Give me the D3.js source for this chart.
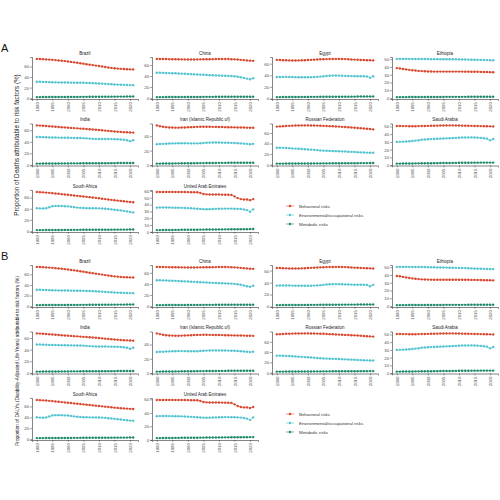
<!DOCTYPE html>
<html><head><meta charset="utf-8">
<script src="https://cdn.jsdelivr.net/npm/d3@7"></script>
<style>body{margin:0;background:#fff}svg{display:block}text{font-family:'Liberation Sans',Arial,sans-serif}</style>
</head><body><svg id="c" width="500" height="500"></svg>
<script>
const years = [1990,1991,1992,1993,1994,1995,1996,1997,1998,1999,2000,2001,2002,2003,2004,2005,2006,2007,2008,2009,2010,2011,2012,2013,2014,2015,2016,2017,2018,2019,2020,2021];
const yearTicks = [1990,1995,2000,2005,2010,2015,2020];
const countries = ["Brazil","China","Egypt","Ethiopia","India","Iran (Islamic Republic of)","Russian Federation","Saudi Arabia","South Africa","United Arab Emirates"];
const riskNames = ["Behavioral risks","Environmental/occupational risks","Metabolic risks"];
const riskColors = ["#d8472f","#52c3cf","#1d8a6c"];
const partLabels = ["A","B"];
const yTitles = ["Proportion of Deaths attributable to risk factors (%)","Proportion of DALYs (Disability-Adjusted Life Years) attributable to risk factors (%)"];
const deathsTickStep = [20,20,20,10,20,20,20,10,20,10];
const dalysTickStep = [20,20,20,10,20,20,20,10,20,20];

const deathsBehavioral = [
[74.5,74.3,74.0,73.6,73.2,72.7,72.2,71.6,71.0,70.3,69.6,68.8,68.0,67.2,66.3,65.4,64.5,63.6,62.7,61.8,60.9,60.0,59.1,58.2,57.4,56.7,56.1,55.6,55.2,54.9,54.7,54.6],
[71.0,70.9,70.8,70.7,70.6,70.5,70.4,70.3,70.2,70.1,70.0,70.0,70.0,70.1,70.2,70.3,70.4,70.5,70.6,70.7,70.8,70.8,70.8,70.7,70.5,70.2,69.8,69.3,68.8,68.3,67.8,67.5],
[66.5,66.3,66.0,65.8,65.6,65.5,65.5,65.6,65.8,66.0,66.3,66.6,66.9,67.2,67.5,67.7,67.9,68.0,68.1,68.2,68.2,68.1,67.9,67.6,67.3,67.0,66.7,66.4,66.2,66.0,65.8,65.6],
[38.5,38.0,37.4,36.8,36.2,35.7,35.3,34.9,34.6,34.4,34.2,34.1,34.0,34.0,34.0,34.0,34.0,34.0,34.0,34.0,34.0,34.0,33.9,33.9,33.8,33.8,33.7,33.6,33.5,33.4,33.3,33.2],
[68.5,68.2,67.8,67.4,67.0,66.6,66.2,65.8,65.4,65.0,64.6,64.2,63.8,63.4,63.0,62.6,62.2,61.8,61.4,61.0,60.5,60.0,59.5,59.0,58.5,58.0,57.6,57.2,56.8,56.5,56.2,56.0],
[55.0,54.0,53.2,52.6,52.2,52.0,51.9,51.9,52.0,52.2,52.4,52.6,52.8,53.0,53.1,53.2,53.2,53.1,53.0,52.9,52.8,52.7,52.6,52.5,52.4,52.3,52.2,52.1,52.0,51.9,51.8,51.7],
[72.0,72.4,72.8,73.2,73.5,73.8,74.0,74.2,74.3,74.3,74.3,74.2,74.1,73.9,73.7,73.5,73.2,72.9,72.6,72.3,72.0,71.6,71.2,70.8,70.4,70.0,69.5,69.0,68.5,68.0,67.4,66.8],
[50.5,50.5,50.4,50.4,50.3,50.3,50.3,50.4,50.5,50.6,50.7,50.8,50.9,51.0,51.1,51.2,51.3,51.3,51.3,51.2,51.1,51.0,50.9,50.8,50.7,50.6,50.5,50.4,50.3,50.2,50.1,50.0],
[70.0,69.6,69.2,68.8,68.3,67.8,67.2,66.6,66.0,65.4,64.8,64.2,63.6,63.0,62.4,61.8,61.2,60.6,60.0,59.3,58.6,57.9,57.2,56.5,55.8,55.1,54.5,53.9,53.3,52.7,52.1,51.6],
[58.5,58.5,58.5,58.6,58.6,58.6,58.5,58.5,58.4,58.4,58.3,58.2,58.1,58.0,57.0,55.5,55.0,54.8,54.7,54.7,54.7,54.6,54.5,54.4,54.2,52.0,49.5,48.0,47.5,47.5,46.5,48.0]
];
const deathsEnvironmental = [
[31.2,31.0,30.8,30.6,30.4,30.2,30.0,29.9,29.8,29.7,29.6,29.5,29.4,29.3,29.2,29.1,28.9,28.7,28.5,28.2,27.9,27.5,27.1,26.7,26.3,26.0,25.7,25.4,25.2,25.0,24.8,24.7],
[46.0,45.9,45.7,45.5,45.3,45.1,44.9,44.6,44.3,44.0,43.7,43.4,43.1,42.8,42.5,42.2,41.9,41.6,41.3,41.0,40.8,40.6,40.4,40.2,40.0,39.5,38.8,37.8,36.6,35.3,34.2,36.0],
[37.0,37.1,37.2,37.2,37.1,37.0,36.8,36.7,36.6,36.6,36.7,36.8,37.0,37.3,37.7,38.2,38.7,39.1,39.4,39.5,39.4,39.2,39.0,38.8,38.6,38.5,38.4,38.4,38.3,38.0,35.8,38.2],
[50.3,50.3,50.3,50.3,50.3,50.2,50.2,50.2,50.1,50.1,50.1,50.0,50.0,50.0,50.0,49.9,49.9,49.9,49.8,49.8,49.7,49.6,49.5,49.4,49.3,49.2,49.1,49.0,48.9,48.8,48.7,48.6],
[48.5,48.3,48.1,47.9,47.7,47.5,47.4,47.3,47.2,47.1,47.0,46.9,46.8,46.7,46.6,46.4,46.0,45.6,45.2,45.0,44.9,44.9,44.9,44.8,44.7,44.6,44.4,44.1,43.6,42.8,41.2,42.9],
[29.0,29.2,29.4,29.6,29.8,30.0,30.1,30.2,30.2,30.2,30.1,30.0,30.0,30.1,30.3,30.6,30.9,31.1,31.2,31.2,31.2,31.1,31.0,30.9,30.8,30.6,30.3,30.0,29.7,29.4,28.8,29.4],
[32.0,32.0,31.8,31.5,31.2,30.8,30.4,30.0,29.6,29.2,28.8,28.4,28.0,27.5,27.0,26.5,26.2,26.0,25.8,25.6,25.4,25.1,24.8,24.5,24.2,23.9,23.6,23.3,23.0,22.8,22.6,22.5],
[30.0,30.1,30.3,30.5,30.8,31.2,31.7,32.2,32.7,33.1,33.4,33.6,33.8,34.0,34.2,34.4,34.6,34.8,35.0,35.2,35.4,35.6,35.7,35.8,35.8,35.7,35.5,35.2,34.8,34.2,32.0,33.8],
[41.0,40.5,40.3,40.8,42.5,44.5,45.0,45.0,44.8,44.5,44.2,43.6,42.8,42.0,41.5,41.2,41.0,40.9,40.8,40.7,40.6,40.4,40.0,39.4,38.8,38.2,37.6,37.0,36.2,35.2,34.0,33.4],
[35.5,35.6,35.7,35.7,35.6,35.5,35.4,35.3,35.2,35.0,34.8,34.5,34.2,33.9,33.6,33.3,33.2,33.3,33.5,33.7,33.9,34.0,34.1,34.1,34.0,33.9,33.7,33.4,32.8,31.9,29.5,33.0]
];
const deathsMetabolic = [
[2.0,2.0,2.1,2.1,2.1,2.2,2.2,2.2,2.3,2.3,2.3,2.4,2.4,2.4,2.5,2.5,2.5,2.6,2.6,2.6,2.7,2.7,2.7,2.8,2.8,2.8,2.9,2.9,2.9,3.0,3.0,3.0],
[1.8,1.8,1.8,1.9,1.9,1.9,1.9,2.0,2.0,2.0,2.0,2.1,2.1,2.1,2.1,2.2,2.2,2.2,2.2,2.3,2.3,2.3,2.3,2.3,2.4,2.4,2.4,2.4,2.4,2.4,2.4,2.4],
[2.4,2.4,2.5,2.5,2.5,2.6,2.6,2.6,2.7,2.7,2.7,2.8,2.8,2.8,2.9,2.9,2.9,3.0,3.0,3.0,3.1,3.1,3.1,3.2,3.2,3.2,3.3,3.3,3.3,3.4,3.4,3.4],
[1.2,1.2,1.2,1.2,1.3,1.3,1.3,1.3,1.3,1.3,1.4,1.4,1.4,1.4,1.4,1.4,1.5,1.5,1.5,1.5,1.5,1.5,1.5,1.6,1.6,1.6,1.6,1.6,1.6,1.6,1.6,1.6],
[2.2,2.2,2.3,2.3,2.3,2.4,2.4,2.4,2.5,2.5,2.5,2.6,2.6,2.6,2.7,2.7,2.7,2.8,2.8,2.8,2.9,2.9,2.9,3.0,3.0,3.0,3.1,3.1,3.1,3.1,3.1,3.1],
[2.0,2.0,2.1,2.1,2.2,2.2,2.3,2.3,2.4,2.4,2.5,2.5,2.6,2.6,2.7,2.7,2.8,2.8,2.9,2.9,3.0,3.0,3.0,3.1,3.1,3.1,3.2,3.2,3.2,3.2,3.2,3.2],
[2.0,2.0,2.0,2.1,2.1,2.1,2.2,2.2,2.2,2.3,2.3,2.3,2.4,2.4,2.4,2.5,2.5,2.5,2.6,2.6,2.6,2.7,2.7,2.7,2.8,2.8,2.8,2.9,2.9,2.9,3.0,3.0],
[2.0,2.0,2.1,2.1,2.2,2.2,2.3,2.3,2.4,2.4,2.5,2.5,2.6,2.6,2.7,2.7,2.8,2.8,2.9,2.9,3.0,3.0,3.1,3.1,3.2,3.2,3.2,3.3,3.3,3.3,3.3,3.3],
[1.8,1.8,1.8,1.9,1.9,1.9,2.0,2.0,2.0,2.1,2.1,2.1,2.2,2.2,2.2,2.3,2.3,2.3,2.4,2.4,2.4,2.5,2.5,2.5,2.6,2.6,2.6,2.7,2.7,2.7,2.8,2.8],
[2.5,2.5,2.6,2.6,2.7,2.7,2.8,2.8,2.9,2.9,3.0,3.0,3.1,3.1,3.2,3.2,3.3,3.3,3.4,3.4,3.5,3.5,3.6,3.6,3.7,3.7,3.8,3.8,3.9,3.9,4.0,4.0]
];
const dalysBehavioral = [
[74.0,73.8,73.5,73.1,72.7,72.2,71.7,71.1,70.5,69.8,69.1,68.3,67.5,66.7,65.8,64.9,64.0,63.1,62.2,61.3,60.4,59.5,58.6,57.7,56.9,56.2,55.6,55.1,54.7,54.4,54.2,54.1],
[70.5,70.4,70.3,70.2,70.1,70.0,69.9,69.8,69.7,69.6,69.5,69.5,69.5,69.6,69.7,69.8,69.9,70.0,70.1,70.2,70.3,70.3,70.3,70.2,70.0,69.7,69.3,68.8,68.3,67.8,67.3,67.0],
[64.5,64.3,64.0,63.8,63.6,63.5,63.5,63.6,63.8,64.0,64.3,64.6,64.9,65.2,65.5,65.7,65.9,66.0,66.1,66.2,66.2,66.1,65.9,65.6,65.3,65.0,64.7,64.4,64.2,64.0,63.8,63.6],
[38.7,38.2,37.5,36.8,36.1,35.5,35.0,34.6,34.3,34.1,34.0,33.9,33.8,33.8,33.8,33.8,33.8,33.8,33.8,33.8,33.8,33.8,33.7,33.7,33.6,33.6,33.5,33.4,33.3,33.2,33.1,33.0],
[68.0,67.7,67.3,66.9,66.5,66.1,65.7,65.3,64.9,64.5,64.1,63.7,63.3,62.9,62.5,62.1,61.7,61.3,60.9,60.5,60.0,59.5,59.0,58.5,58.0,57.5,57.1,56.7,56.3,56.0,55.7,55.5],
[55.5,54.5,53.6,53.0,52.6,52.4,52.3,52.3,52.4,52.6,52.8,53.0,53.2,53.4,53.5,53.6,53.6,53.5,53.4,53.3,53.2,53.1,53.0,52.9,52.8,52.7,52.6,52.5,52.4,52.3,52.2,52.1],
[74.5,74.8,75.1,75.4,75.6,75.8,76.0,76.1,76.2,76.2,76.2,76.1,76.0,75.8,75.6,75.4,75.1,74.8,74.5,74.2,73.9,73.6,73.3,73.0,72.7,72.4,72.0,71.6,71.2,70.8,70.4,70.0],
[50.5,50.5,50.4,50.4,50.3,50.3,50.3,50.4,50.5,50.6,50.7,50.8,50.9,51.0,51.1,51.2,51.3,51.3,51.3,51.2,51.1,51.0,50.9,50.8,50.7,50.6,50.5,50.4,50.3,50.2,50.1,50.0],
[72.0,71.6,71.2,70.8,70.3,69.8,69.2,68.6,68.0,67.4,66.8,66.2,65.6,65.0,64.4,63.8,63.2,62.6,62.0,61.4,60.8,60.2,59.6,59.0,58.4,57.8,57.3,56.8,56.4,56.0,55.6,55.4],
[59.0,59.0,59.0,59.1,59.1,59.1,59.0,59.0,58.9,58.9,58.8,58.7,58.6,58.5,57.5,56.0,55.5,55.3,55.2,55.2,55.2,55.1,55.0,54.9,54.7,52.5,50.0,48.5,48.0,48.0,47.0,48.5]
];
const dalysEnvironmental = [
[31.0,30.8,30.6,30.4,30.2,30.0,29.8,29.7,29.6,29.5,29.4,29.3,29.2,29.1,29.0,28.9,28.7,28.5,28.3,28.0,27.7,27.3,26.9,26.5,26.1,25.8,25.5,25.2,25.0,24.8,24.6,24.5],
[46.5,46.4,46.2,46.0,45.8,45.6,45.4,45.1,44.8,44.5,44.2,43.9,43.6,43.3,43.0,42.7,42.4,42.1,41.8,41.5,41.3,41.1,40.9,40.7,40.5,40.0,39.3,38.3,37.1,35.8,34.7,36.5],
[35.0,35.1,35.2,35.2,35.1,35.0,34.8,34.7,34.6,34.6,34.7,34.8,35.0,35.3,35.7,36.2,36.7,37.1,37.4,37.5,37.4,37.2,37.0,36.8,36.6,36.5,36.4,36.4,36.3,36.0,33.8,36.2],
[50.3,50.3,50.3,50.3,50.3,50.2,50.2,50.2,50.1,50.1,50.0,49.9,49.8,49.7,49.6,49.5,49.4,49.3,49.2,49.1,49.0,48.9,48.8,48.6,48.4,48.2,48.0,47.9,47.8,47.7,47.6,47.5],
[49.0,48.8,48.6,48.4,48.2,48.0,47.9,47.8,47.7,47.6,47.5,47.4,47.3,47.2,47.1,46.9,46.5,46.1,45.7,45.5,45.4,45.4,45.4,45.3,45.2,45.1,44.9,44.6,44.1,43.3,41.5,43.4],
[29.5,29.7,29.9,30.1,30.3,30.5,30.6,30.7,30.7,30.7,30.6,30.5,30.5,30.6,30.8,31.1,31.4,31.6,31.7,31.7,31.7,31.6,31.5,31.4,31.3,31.1,30.8,30.5,30.2,29.9,29.3,29.9],
[33.0,33.0,32.8,32.5,32.2,31.8,31.4,31.0,30.6,30.2,29.8,29.4,29.0,28.5,28.0,27.5,27.2,27.0,26.8,26.6,26.4,26.1,25.8,25.5,25.2,24.9,24.6,24.3,24.0,23.8,23.6,23.5],
[30.0,30.1,30.3,30.5,30.8,31.2,31.7,32.2,32.7,33.1,33.4,33.6,33.8,34.0,34.2,34.4,34.6,34.8,35.0,35.2,35.4,35.6,35.7,35.8,35.8,35.7,35.5,35.2,34.8,34.2,32.0,33.8],
[40.0,39.5,39.3,39.8,41.5,43.5,44.0,44.0,43.8,43.5,43.2,42.6,41.8,41.0,40.5,40.2,40.0,39.9,39.8,39.7,39.6,39.4,39.0,38.4,37.8,37.2,36.6,36.0,35.2,34.5,34.0,33.8],
[35.0,35.1,35.2,35.2,35.1,35.0,34.9,34.8,34.7,34.5,34.3,34.0,33.7,33.4,33.1,32.8,32.7,32.8,33.0,33.2,33.4,33.5,33.6,33.6,33.5,33.4,33.2,32.9,32.3,31.4,29.5,33.2]
];
const dalysMetabolic = [
[2.0,2.0,2.1,2.1,2.1,2.2,2.2,2.2,2.3,2.3,2.3,2.4,2.4,2.4,2.5,2.5,2.5,2.6,2.6,2.6,2.7,2.7,2.7,2.8,2.8,2.8,2.9,2.9,2.9,3.0,3.0,3.0],
[1.8,1.8,1.8,1.9,1.9,1.9,1.9,2.0,2.0,2.0,2.0,2.1,2.1,2.1,2.1,2.2,2.2,2.2,2.2,2.3,2.3,2.3,2.3,2.3,2.4,2.4,2.4,2.4,2.4,2.4,2.4,2.4],
[2.4,2.4,2.5,2.5,2.5,2.6,2.6,2.6,2.7,2.7,2.7,2.8,2.8,2.8,2.9,2.9,2.9,3.0,3.0,3.0,3.1,3.1,3.1,3.2,3.2,3.2,3.3,3.3,3.3,3.4,3.4,3.4],
[1.2,1.2,1.2,1.2,1.3,1.3,1.3,1.3,1.3,1.3,1.4,1.4,1.4,1.4,1.4,1.4,1.5,1.5,1.5,1.5,1.5,1.5,1.5,1.6,1.6,1.6,1.6,1.6,1.6,1.6,1.6,1.6],
[2.2,2.2,2.3,2.3,2.3,2.4,2.4,2.4,2.5,2.5,2.5,2.6,2.6,2.6,2.7,2.7,2.7,2.8,2.8,2.8,2.9,2.9,2.9,3.0,3.0,3.0,3.1,3.1,3.1,3.1,3.1,3.1],
[2.0,2.0,2.1,2.1,2.2,2.2,2.3,2.3,2.4,2.4,2.5,2.5,2.6,2.6,2.7,2.7,2.8,2.8,2.9,2.9,3.0,3.0,3.0,3.1,3.1,3.1,3.2,3.2,3.2,3.2,3.2,3.2],
[2.0,2.0,2.0,2.1,2.1,2.1,2.2,2.2,2.2,2.3,2.3,2.3,2.4,2.4,2.4,2.5,2.5,2.5,2.6,2.6,2.6,2.7,2.7,2.7,2.8,2.8,2.8,2.9,2.9,2.9,3.0,3.0],
[2.0,2.0,2.1,2.1,2.2,2.2,2.3,2.3,2.4,2.4,2.5,2.5,2.6,2.6,2.7,2.7,2.8,2.8,2.9,2.9,3.0,3.0,3.1,3.1,3.2,3.2,3.2,3.3,3.3,3.3,3.3,3.3],
[1.8,1.8,1.8,1.9,1.9,1.9,2.0,2.0,2.0,2.1,2.1,2.1,2.2,2.2,2.2,2.3,2.3,2.3,2.4,2.4,2.4,2.5,2.5,2.5,2.6,2.6,2.6,2.7,2.7,2.7,2.8,2.8],
[2.5,2.5,2.6,2.6,2.7,2.7,2.8,2.8,2.9,2.9,3.0,3.0,3.1,3.1,3.2,3.2,3.3,3.3,3.4,3.4,3.5,3.5,3.6,3.6,3.7,3.7,3.8,3.8,3.9,3.9,4.0,4.0]
];

const parts = [
  {series:[deathsBehavioral,deathsEnvironmental,deathsMetabolic], steps:deathsTickStep},
  {series:[dalysBehavioral,dalysEnvironmental,dalysMetabolic], steps:dalysTickStep}
];

const svg = d3.select("#c");
const colX = [32,152,272,392], plotW = 106, plotH = 42;
const rowTop = [57,123.5,190];
const partOff = [0,208];
const axisColor = "#333";
const yTitleCenter = [145, 361];
const yTitleSize = [6.3, 4.7];

parts.forEach((part, p) => {
  const off = partOff[p];
  svg.append("text").attr("x",1).attr("y",52+off).attr("font-size",11).attr("fill","#111").text(partLabels[p]);
  svg.append("text").attr("transform",`translate(${18.5},${yTitleCenter[p]}) rotate(-90)`).attr("text-anchor","middle")
    .attr("font-size",yTitleSize[p]).attr("fill","#222").text(yTitles[p]);

  countries.forEach((name, ci) => {
    const col = ci % 4, row = Math.floor(ci / 4);
    const x0 = colX[col], y0 = rowTop[row] + off;
    const g = svg.append("g");
    const vals = part.series.map(s => s[ci]);
    const all = vals.flat();
    const mn = d3.min(all), mx = d3.max(all), r = mx - mn;
    const y = d3.scaleLinear().domain([mn - 0.05*r, mx + 0.05*r]).range([y0 + plotH, y0]);
    const span = years[years.length-1] - years[0];
    const x = d3.scaleLinear().domain([years[0] - 0.05*span, years[years.length-1] + 0.05*span]).range([x0, x0 + plotW]);
    const step = part.steps[ci];
    const tv = d3.range(0, mx + 0.05*r + 0.001, step);

    g.append("text").attr("x", x0 + plotW/2).attr("y", y0 - 2.5).attr("text-anchor","middle")
      .attr("font-size",4.5).attr("fill","#222").text(name);

    const ya = g.append("g").attr("transform",`translate(${x0},0)`)
      .call(d3.axisLeft(y).tickValues(tv).tickSize(1.8).tickPadding(1).tickFormat(d3.format("d")));
    const xa = g.append("g").attr("transform",`translate(0,${y0 + plotH})`)
      .call(d3.axisBottom(x).tickValues(yearTicks).tickSize(1.8).tickPadding(1).tickFormat(d3.format("d")));
    [ya, xa].forEach(a => {
      a.attr("font-family",null);
      a.select(".domain").attr("stroke",axisColor).attr("stroke-width",0.6);
      a.selectAll(".tick line").attr("stroke",axisColor).attr("stroke-width",0.5);
      a.selectAll("text").attr("font-size",4.4).attr("fill","#4d4d4d");
    });
    xa.selectAll(".tick text").attr("transform","rotate(-90)").attr("text-anchor","end")
      .attr("x",-3).attr("y",0).attr("dy","0.35em");

    vals.forEach((s, si) => {
      const line = d3.line().x((d,i) => x(years[i])).y(d => y(d));
      g.append("path").attr("d", line(s)).attr("fill","none").attr("stroke",riskColors[si]).attr("stroke-width",0.6);
      g.selectAll(null).data(s).join("circle").attr("cx",(d,i)=>x(years[i])).attr("cy",d=>y(d)).attr("r",1.2).attr("fill",riskColors[si]);
    });
  });

  const lg = svg.append("g");
  riskNames.forEach((nm, i) => {
    const ly = 203 + off + 3 + i*9;
    lg.append("line").attr("x1",286).attr("x2",294).attr("y1",ly).attr("y2",ly).attr("stroke",riskColors[i]).attr("stroke-width",0.6);
    lg.append("circle").attr("cx",290).attr("cy",ly).attr("r",1.2).attr("fill",riskColors[i]);
    lg.append("text").attr("x",299).attr("y",ly).attr("dy","0.35em").attr("font-size",4.4).attr("fill","#333").text(nm);
  });
});
</script></body></html>
